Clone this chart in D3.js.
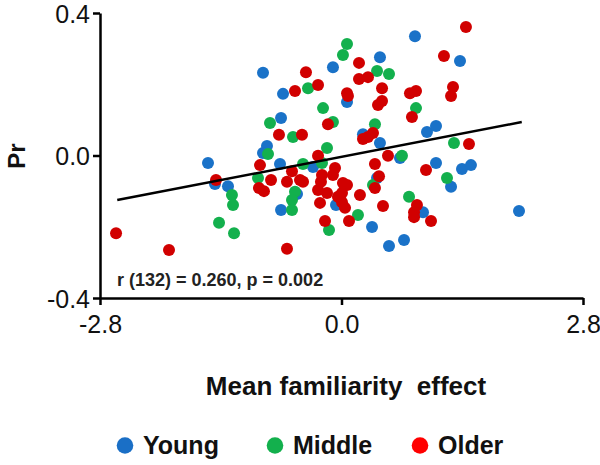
<!DOCTYPE html>
<html>
<head>
<meta charset="utf-8">
<script src="https://cdn.jsdelivr.net/npm/d3@7"></script>
<style>
  html, body { margin: 0; padding: 0; background: #fff; }
  svg { display: block; }
</style>
</head>
<body>
<script>
// ---- data ----
const groups = ["Young", "Middle", "Older"];
const groupColors = ["#1a72c8", "#13b04d", "#d10000"];
const legendColors = ["#1a6fc6", "#13b04d", "#ff0000"];

const youngX = [-1.548,-1.467,-1.316,-0.910,-0.678,-0.701,-0.864,-0.910,-0.713,-0.701,-0.516,-0.330,-0.099,0.064,0.446,0.852,1.374,0.249,0.446,0.991,1.096,0.678,1.096,1.397,1.501,1.270,0.412,-0.064,0.945,0.354,0.551,0.725,2.058];
const youngY = [-0.021,-0.080,-0.086,0.232,0.173,0.105,0.027,0.007,-0.024,-0.153,-0.108,-0.032,0.248,0.150,0.276,0.335,0.265,0.060,0.035,0.066,0.083,-0.007,-0.021,-0.038,-0.027,-0.088,-0.063,-0.139,-0.159,-0.201,-0.254,-0.237,-0.156];

const middleX = [-1.270,-1.258,-1.420,-1.246,-0.829,-0.562,-0.852,-0.968,-0.539,-0.574,-0.574,-0.388,-0.214,-0.099,-0.168,0.064,0.017,0.412,0.551,0.864,0.388,1.304,0.701,-0.446,-0.226,0.365,1.223,0.783,0.191,-0.145];
const middleY = [-0.111,-0.139,-0.189,-0.218,0.091,0.052,0.004,-0.063,-0.102,-0.125,-0.153,0.189,0.133,0.094,0.021,0.313,0.282,0.237,0.229,0.133,0.088,0.035,-0.001,-0.024,-0.021,-0.083,-0.063,-0.116,-0.167,-0.209];

const olderX = [-2.614,-2.000,-1.455,-0.539,-0.725,-0.458,-0.945,-0.817,-0.957,-0.899,-0.632,-0.574,-0.481,-0.446,-0.632,-0.412,-0.272,-0.157,-0.272,0.203,0.203,0.307,0.064,0.075,0.470,0.470,0.423,0.794,0.864,0.817,1.188,1.443,1.293,1.270,0.249,0.307,0.365,0.539,1.478,0.388,-0.075,0.980,-0.099,-0.226,-0.272,-0.168,-0.249,-0.041,0.006,0.041,0.017,0.064,0.006,0.214,0.481,0.435,0.388,0.875,0.841,0.841,1.038,-0.191,0.087,-0.238];
const olderY = [-0.218,-0.265,-0.069,0.181,0.058,0.058,-0.027,-0.069,-0.091,-0.100,-0.074,-0.044,-0.069,-0.074,-0.262,0.234,0.198,0.088,-0.001,0.260,0.215,0.220,0.175,0.167,0.189,0.153,0.142,0.175,0.181,0.108,0.279,0.361,0.192,0.167,0.046,0.052,0.063,-0.001,0.032,-0.024,-0.035,-0.041,-0.055,-0.055,-0.097,-0.105,-0.133,-0.116,-0.131,-0.147,-0.077,-0.083,-0.105,-0.111,-0.142,-0.058,-0.091,-0.139,-0.159,-0.173,-0.184,-0.184,-0.184,-0.074];

const fitX = [-2.60, 2.09];
const fitY = [-0.125, 0.094];

const xTicks = [-2.8, 0.0, 2.8];
const yTicks = [-0.4, 0.0, 0.4];
const xTitle = "Mean familiarity  effect";
const yTitle = "Pr";
const statText = "r (132) = 0.260, p = 0.002";

// ---- drawing ----
const W = 600, H = 465;
const svg = d3.select("body").append("svg").attr("width", W).attr("height", H);

const x = d3.scaleLinear().domain([-2.8, 2.8]).range([100, 583]);
const y = d3.scaleLinear().domain([-0.4, 0.4]).range([298, 13]);

const seriesX = [youngX, middleX, olderX];
const seriesY = [youngY, middleY, olderY];

// dots
groups.forEach((g, gi) => {
  const pts = seriesX[gi].map((v, i) => ({x: v, y: seriesY[gi][i]}));
  svg.append("g").selectAll("circle").data(pts).join("circle")
    .attr("cx", d => x(d.x)).attr("cy", d => y(d.y)).attr("r", 6)
    .attr("fill", groupColors[gi]);
});

// regression line
svg.append("line")
  .attr("x1", x(fitX[0])).attr("y1", y(fitY[0]))
  .attr("x2", x(fitX[1])).attr("y2", y(fitY[1]))
  .attr("stroke", "#000").attr("stroke-width", 2.5);

// axes
const fmt = d => d3.format(".1f")(d).replace("−", "-");
const xAxis = svg.append("g").attr("transform", "translate(0,298)")
  .call(d3.axisBottom(x).tickValues(xTicks).tickFormat(fmt).tickSize(7).tickSizeOuter(0));
const yAxis = svg.append("g").attr("transform", "translate(100,0)")
  .call(d3.axisLeft(y).tickValues(yTicks).tickFormat(fmt).tickSize(7).tickSizeOuter(0));

[xAxis, yAxis].forEach(a => {
  a.select(".domain").attr("stroke", "#000").attr("stroke-width", 2.5);
  a.selectAll(".tick line").attr("stroke", "#000").attr("stroke-width", 2.5);
  a.selectAll("text").attr("font-family", "'Liberation Sans', Arial, sans-serif")
    .attr("font-size", 25).attr("fill", "#111");
});
xAxis.selectAll("text").attr("dy", "1em");
yAxis.selectAll("text").attr("x", -10).attr("dy", "0.36em");

// axis titles
svg.append("text").attr("x", 346).attr("y", 395).attr("text-anchor", "middle")
  .attr("font-family", "'Liberation Sans', Arial, sans-serif").attr("font-weight", "bold")
  .attr("font-size", 26).attr("fill", "#111")
  .style("white-space", "pre").text(xTitle);

svg.append("text").attr("transform", "translate(25,156) rotate(-90)").attr("text-anchor", "middle")
  .attr("font-family", "'Liberation Sans', Arial, sans-serif").attr("font-weight", "bold")
  .attr("font-size", 24).attr("fill", "#111").text(yTitle);

// stat text
svg.append("text").attr("x", 117).attr("y", 286)
  .attr("font-family", "'Liberation Sans Narrow', 'Arial Narrow', sans-serif").attr("font-weight", "bold")
  .attr("font-size", 18).attr("fill", "#222").text(statText);

// legend
const legendX = [125, 275, 420];
groups.forEach((g, gi) => {
  svg.append("circle").attr("cx", legendX[gi]).attr("cy", 445.5).attr("r", 8.3)
    .attr("fill", legendColors[gi]);
  svg.append("text").attr("x", legendX[gi] + 18).attr("y", 454)
    .attr("font-family", "'Liberation Sans', Arial, sans-serif").attr("font-weight", "bold")
    .attr("font-size", 25).attr("fill", "#111").text(g);
});
</script>
</body>
</html>
